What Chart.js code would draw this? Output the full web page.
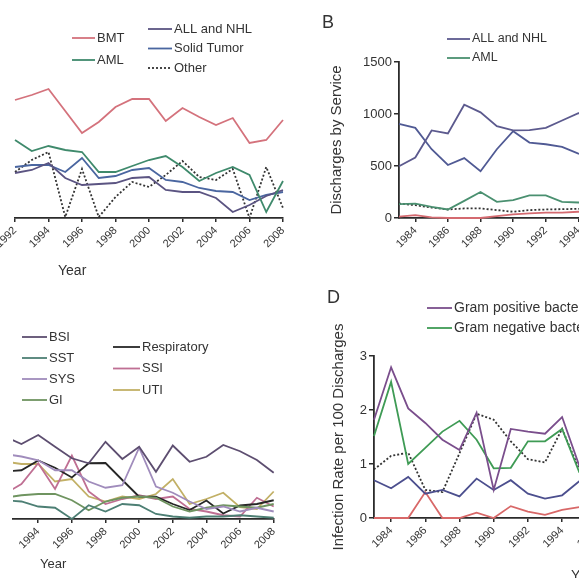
<!DOCTYPE html>
<html>
<head>
<meta charset="utf-8">
<script src="https://cdn.jsdelivr.net/npm/chart.js@4.4.1/dist/chart.umd.min.js"></script>
<style>
  html, body { margin: 0; padding: 0; background: #fff; }
  body { width: 579px; height: 578px; overflow: hidden; position: relative; }
  canvas { position: absolute; }
</style>
</head>
<body>
<canvas id="chartA" width="300" height="290" style="left:0;top:0"></canvas>
<canvas id="chartB" width="330" height="290" style="left:300px;top:0"></canvas>
<canvas id="chartC" width="300" height="288" style="left:0;top:290px"></canvas>
<canvas id="chartD" width="330" height="288" style="left:290px;top:290px"></canvas>
<script>
// ---- data ----

// A: by service, 1992-2008 (no y axis visible, arbitrary units)
const yearsA = [1992, 1993, 1994, 1995, 1996, 1997, 1998, 1999, 2000, 2001, 2002, 2003, 2004, 2005, 2006, 2007, 2008];
const aBMT   = [4.72, 4.92, 5.16, 4.28, 3.40, 3.84, 4.44, 4.76, 4.76, 3.88, 4.40, 4.04, 3.72, 4.00, 3.00, 3.12, 3.92];
const aAML   = [3.12, 2.68, 2.88, 2.72, 2.64, 1.84, 1.84, 2.08, 2.32, 2.48, 2.04, 1.48, 1.80, 2.04, 1.72, 0.24, 1.48];
const aALL   = [1.80, 1.92, 2.20, 1.60, 1.32, 1.36, 1.40, 1.60, 1.64, 1.12, 1.04, 1.04, 0.80, 0.24, 0.52, 0.88, 1.12];
const aSolid = [2.04, 2.12, 2.12, 1.84, 2.40, 1.60, 1.68, 1.92, 2.00, 1.52, 1.44, 1.20, 1.08, 1.04, 0.72, 0.92, 1.04];
const aOther = [1.84, 2.32, 2.64, 0.04, 1.96, 0.04, 0.84, 1.44, 1.24, 1.72, 2.28, 1.64, 1.52, 1.96, 0.00, 2.04, 0.40];
const ticksA = [1992, 1994, 1996, 1998, 2000, 2002, 2004, 2006, 2008];

// B: discharges by service, 1983 onwards
const yearsB = [1983, 1984, 1985, 1986, 1987, 1988, 1989, 1990, 1991, 1992, 1993, 1994, 1995, 1996];
const bALL   = [497, 582, 842, 813, 1089, 1016, 883, 842, 845, 867, 937, 1009, 1000, 980];
const bSolid = [905, 867, 661, 510, 576, 449, 661, 835, 725, 709, 684, 620, 600, 580];
const bAML   = [133, 139, 108, 82, 165, 250, 155, 171, 218, 218, 155, 149, 150, 150];
const bBMT   = [13, 28, 6, 0, 0, 0, 19, 35, 44, 51, 51, 60, 65, 70];
const bOther = [139, 123, 100, 82, 92, 92, 76, 60, 76, 82, 85, 88, 90, 90];
const ticksB  = [1984, 1986, 1988, 1990, 1992, 1994, 1996];
const yTicksB = [0, 500, 1000, 1500];

// C: by infection site, 1992-2008 (left edge cut at mid 1992)
const yearsC = [1992, 1993, 1994, 1995, 1996, 1997, 1998, 1999, 2000, 2001, 2002, 2003, 2004, 2005, 2006, 2007, 2008];
const cBSI  = [3.30, 3.00, 3.36, 2.89, 2.43, 2.23, 3.09, 2.40, 2.89, 1.89, 2.94, 2.29, 2.49, 2.96, 2.71, 2.36, 1.85];
const cSST  = [0.75, 0.70, 0.50, 0.45, 0.00, 0.55, 0.30, 0.60, 0.55, 0.20, 0.10, 0.05, 0.10, 0.10, 0.15, 0.10, 0.05];
const cSYS  = [2.60, 2.50, 2.35, 1.95, 1.95, 1.50, 1.25, 1.35, 2.85, 1.30, 1.05, 0.70, 0.40, 0.50, 0.30, 0.45, 0.30];
const cGI   = [0.85, 0.95, 1.00, 1.00, 0.75, 0.35, 0.70, 0.85, 0.90, 0.85, 0.50, 0.30, 0.45, 0.55, 0.50, 0.45, 0.60];
const cResp = [1.90, 1.95, 2.34, 2.05, 1.66, 2.23, 2.24, 1.56, 0.89, 0.89, 0.60, 0.36, 0.74, 0.22, 0.54, 0.60, 0.75];
const cSSI  = [1.00, 1.40, 2.23, 1.20, 2.54, 1.10, 0.60, 0.80, 0.95, 0.80, 0.90, 0.40, 0.30, 0.15, 0.10, 0.85, 0.50];
const cUTI  = [2.30, 2.20, 2.20, 1.50, 1.60, 0.90, 0.70, 0.90, 0.80, 1.00, 1.60, 0.60, 0.80, 1.05, 0.47, 0.40, 1.10];
const ticksC = [1994, 1996, 1998, 2000, 2002, 2004, 2006, 2008];

// D: infection rate per 100 discharges by organism, 1983 onwards
const yearsD = [1983, 1984, 1985, 1986, 1987, 1988, 1989, 1990, 1991, 1992, 1993, 1994, 1995, 1996];
const dPos   = [1.82, 2.79, 2.03, 1.76, 1.45, 1.26, 1.95, 0.52, 1.65, 1.60, 1.56, 1.87, 0.97, 1.10];
const dNeg   = [1.52, 2.52, 1.00, 1.30, 1.60, 1.80, 1.45, 0.92, 0.93, 1.42, 1.42, 1.65, 0.85, 0.90];
const dFungi = [0.70, 0.55, 0.76, 0.45, 0.52, 0.40, 0.73, 0.52, 0.70, 0.45, 0.36, 0.42, 0.68, 0.80];
const dVirus = [0.00, 0.00, 0.00, 0.48, 0.00, 0.00, 0.10, 0.00, 0.22, 0.12, 0.06, 0.15, 0.20, 0.20];
const dOther = [0.90, 1.15, 1.21, 0.52, 0.48, 1.20, 1.93, 1.82, 1.42, 1.09, 1.03, 1.65, 0.90, 0.90];
const ticksD  = [1984, 1986, 1988, 1990, 1992, 1994, 1996];
const yTicksD = [0, 1, 2, 3];

// ---- styling ----
Chart.defaults.font.family = '"Liberation Sans", Arial, sans-serif';
Chart.defaults.color = '#333';
const AXIS = '#2b2b2b';

// legend columns + loose labels drawn at fixed canvas positions
const panelDecor = {
  id: 'panelDecor',
  afterDraw(chart, args, opts) {
    const ctx = chart.ctx;
    ctx.save();
    (opts.legend || []).forEach(col => {
      col.items.forEach((idx, row) => {
        const ds = chart.data.datasets[idx];
        const y = col.y + row * col.dy;
        ctx.strokeStyle = ds.borderColor;
        ctx.lineWidth = ds.borderWidth;
        ctx.setLineDash(ds.borderDash || []);
        ctx.beginPath();
        ctx.moveTo(col.x, y);
        ctx.lineTo(col.x + col.len, y);
        ctx.stroke();
        ctx.setLineDash([]);
        ctx.fillStyle = '#333';
        ctx.font = opts.font;
        ctx.textAlign = 'left';
        ctx.textBaseline = 'middle';
        ctx.fillText(ds.label, col.x + col.len + 2, y);
      });
    });
    (opts.texts || []).forEach(t => {
      ctx.fillStyle = '#333';
      ctx.font = t.font;
      ctx.textAlign = 'left';
      ctx.textBaseline = 'alphabetic';
      ctx.fillText(t.text, t.x, t.y);
    });
    ctx.restore();
  }
};

function line(label, years, vals, color, dashed, clip) {
  return {
    label,
    data: years.map((x, i) => ({ x, y: vals[i] })),
    borderColor: color,
    borderWidth: 1.8,
    borderDash: dashed ? [2, 2] : [],
    pointRadius: 0,
    tension: 0,
    fill: false,
    clip: clip === undefined ? false : clip,
  };
}

function xScale(min, max, ticks, height) {
  return {
    type: 'linear',
    min, max,
    afterBuildTicks: s => { s.ticks = ticks.map(v => ({ value: v })); },
    afterFit: s => { s.height = height; s.paddingLeft = 0; s.paddingRight = 0; },
    grid: { drawOnChartArea: false, drawTicks: true, tickLength: 4, color: AXIS, lineWidth: 1.5 },
    border: { color: AXIS, width: 1.8 },
    ticks: {
      autoSkip: false, minRotation: 45, maxRotation: 45, padding: 2,
      color: '#333', font: { size: 11 },
      callback: v => String(v),
    },
  };
}

function yScale(min, max, ticks, width, title, titlePad) {
  return {
    min, max,
    afterBuildTicks: s => { s.ticks = ticks.map(v => ({ value: v })); },
    afterFit: s => { s.width = width; s.paddingTop = 0; s.paddingBottom = 0; },
    grid: { drawOnChartArea: false, drawTicks: true, tickLength: 5, color: AXIS, lineWidth: 1.5 },
    border: { color: AXIS, width: 1.8 },
    ticks: { padding: 2, color: '#333', font: { size: 13 }, callback: v => String(v) },
    title: { display: true, text: title, color: '#333', font: { size: 15 }, padding: { top: titlePad, bottom: 0 } },
  };
}

function options(padding, scales, decor) {
  return {
    responsive: false,
    animation: false,
    events: [],
    layout: { padding },
    plugins: { legend: { display: false }, tooltip: { enabled: false }, panelDecor: decor },
    scales,
  };
}

// ---- A ----
new Chart(document.getElementById('chartA'), {
  type: 'line',
  data: {
    datasets: [
      line('BMT', yearsA, aBMT, '#d4727c'),
      line('AML', yearsA, aAML, '#3f8a6c'),
      line('ALL and NHL', yearsA, aALL, '#5b5482'),
      line('Solid Tumor', yearsA, aSolid, '#4a66a0'),
      line('Other', yearsA, aOther, '#333', true),
    ],
  },
  options: options(
    { left: 15, right: 17, top: 68, bottom: 0 },
    { x: xScale(1992, 2008, ticksA, 72), y: { display: false, min: 0, max: 6 } },
    {
      font: '13px "Liberation Sans", Arial, sans-serif',
      legend: [
        { x: 72, len: 23, y: 38, dy: 22, items: [0, 1] },
        { x: 148, len: 24, y: 29, dy: 19.5, items: [2, 3, 4] },
      ],
      texts: [{ text: 'Year', x: 58, y: 275, font: '14px "Liberation Sans", Arial, sans-serif' }],
    }
  ),
  plugins: [panelDecor],
});

// ---- B ----
new Chart(document.getElementById('chartB'), {
  type: 'line',
  data: {
    datasets: [
      line('ALL and NHL', yearsB, bALL, '#5c5a8e'),
      line('AML', yearsB, bAML, '#4a9070'),
      line('Solid Tumor', yearsB, bSolid, '#505a94'),
      line('BMT', yearsB, bBMT, '#d46a70'),
      line('Other', yearsB, bOther, '#333', true),
    ],
  },
  options: options(
    { left: 0, right: 19, top: 62, bottom: 0 },
    { x: xScale(1983, 1996, ticksB, 72), y: yScale(0, 1500, yTicksB, 99, 'Discharges by Service', 28) },
    {
      font: '12.5px "Liberation Sans", Arial, sans-serif',
      legend: [{ x: 147, len: 23, y: 39, dy: 19, items: [0, 1] }],
      texts: [{ text: 'B', x: 22, y: 28, font: '18px "Liberation Sans", Arial, sans-serif' }],
    }
  ),
  plugins: [panelDecor],
});

// ---- C ----
const clipLeft = { left: 0, right: false, top: false, bottom: false };
new Chart(document.getElementById('chartC'), {
  type: 'line',
  data: {
    datasets: [
      line('BSI', yearsC, cBSI, '#5d4e70', false, clipLeft),
      line('SST', yearsC, cSST, '#4d7f74', false, clipLeft),
      line('SYS', yearsC, cSYS, '#a08cbc', false, clipLeft),
      line('GI', yearsC, cGI, '#6f9460', false, clipLeft),
      line('Respiratory', yearsC, cResp, '#262626', false, clipLeft),
      line('SSI', yearsC, cSSI, '#bf6f93', false, clipLeft),
      line('UTI', yearsC, cUTI, '#c2b066', false, clipLeft),
    ],
  },
  options: options(
    { left: 13, right: 26.3, top: 104, bottom: 0 },
    { x: xScale(1992.5, 2008, ticksC, 59), y: { display: false, min: 0, max: 5 } },
    {
      font: '13px "Liberation Sans", Arial, sans-serif',
      legend: [
        { x: 22, len: 25, y: 47, dy: 21, items: [0, 1, 2, 3] },
        { x: 113, len: 27, y: 57, dy: 21.5, items: [4, 5, 6] },
      ],
      texts: [{ text: 'Year', x: 40, y: 278, font: '13px "Liberation Sans", Arial, sans-serif' }],
    }
  ),
  plugins: [panelDecor],
});

// ---- D ----
new Chart(document.getElementById('chartD'), {
  type: 'line',
  data: {
    datasets: [
      line('Gram positive bacteria', yearsD, dPos, '#7a4e8c'),
      line('Gram negative bacteria', yearsD, dNeg, '#3f9b55'),
      line('Fungi', yearsD, dFungi, '#4c4f8e'),
      line('Viruses', yearsD, dVirus, '#d86868'),
      line('Other', yearsD, dOther, '#333', true),
    ],
  },
  options: options(
    { left: 0, right: 6.6, top: 66, bottom: 0 },
    { x: xScale(1983, 1997, ticksD, 60), y: yScale(0, 3, yTicksD, 84, 'Infection Rate per 100 Discharges', 40) },
    {
      font: '14px "Liberation Sans", Arial, sans-serif',
      legend: [{ x: 137, len: 25, y: 18, dy: 20, items: [0, 1] }],
      texts: [
        { text: 'D', x: 37, y: 13, font: '18px "Liberation Sans", Arial, sans-serif' },
        { text: 'Year', x: 281, y: 290, font: '14px "Liberation Sans", Arial, sans-serif' },
      ],
    }
  ),
  plugins: [panelDecor],
});
</script>
</body>
</html>
